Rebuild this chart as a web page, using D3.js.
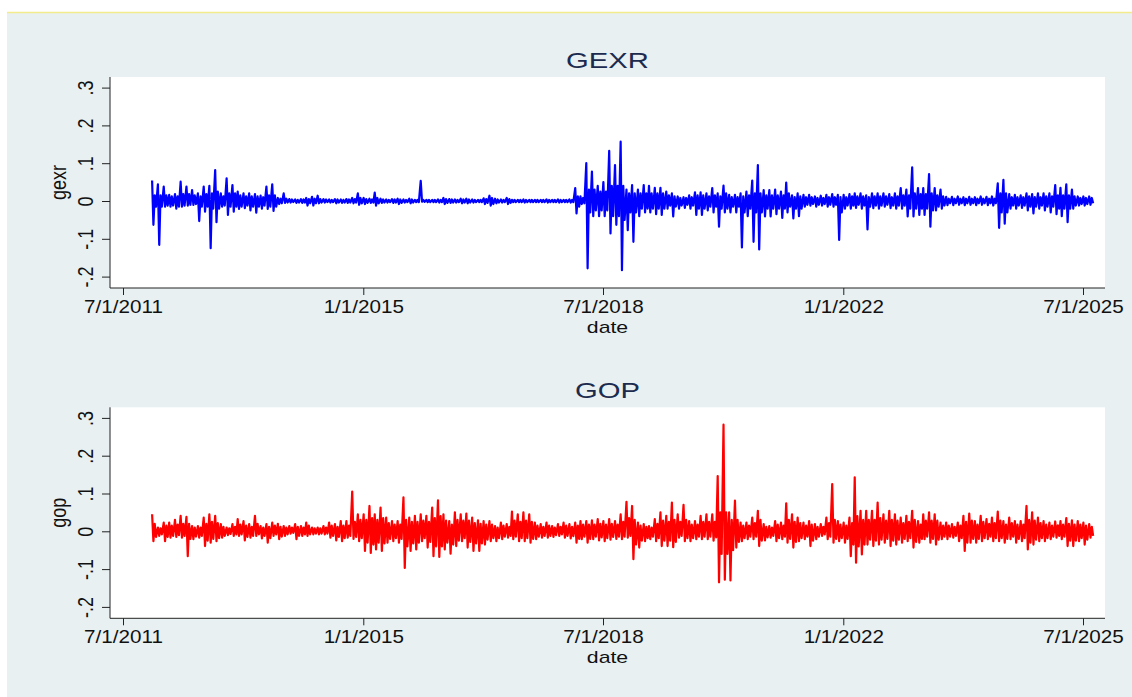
<!DOCTYPE html>
<html>
<head>
<meta charset="utf-8">
<script src="https://cdn.jsdelivr.net/npm/d3@7"></script>
<style>
  body { margin: 0; background: #fff; }
</style>
</head>
<body>
<div id="chart"></div>
<script>
// monthly readings, Dec 2011 .. Aug 2025 (165 months)
// high/low = extreme values seen in the month, bandHigh/bandLow = the usual swing that month
const firstMonth = new Date(2011, 11, 1);
const endMonth = new Date(2025, 8, 1);

const xTickDates = [new Date(2011, 6, 1), new Date(2015, 0, 1), new Date(2018, 6, 1), new Date(2022, 0, 1), new Date(2025, 6, 1)];
const xTickLabels = ['7/1/2011', '1/1/2015', '7/1/2018', '1/1/2022', '7/1/2025'];
const yTicks = [-0.2, -0.1, 0, 0.1, 0.2, 0.3];
const yTickLabels = ['-.2', '-.1', '0', '.1', '.2', '.3'];

const gexrHigh = [
  .054,.044,.038,.016,.018,.051,.038,.029,.020,.038,
  .040,.082,.020,.060,.042,.025,.020,.020,.018,.014,
  .038,.044,.008,.020,.005,.004,.005,.008,.011,.014,
  .005,.004,.005,.004,.005,.008,.020,.008,.006,.022,
  .006,.004,.005,.006,.004,.006,.003,.053,.003,.003,
  .004,.008,.005,.004,.006,.006,.004,.003,.007,.014,
  .006,.004,.008,.003,.003,.004,.003,.003,.003,.004,
  .003,.004,.003,.004,.034,.012,.100,.078,.040,.050,
  .133,.095,.157,.030,.042,.030,.042,.040,.035,.035,
  .025,.020,.012,.010,.015,.023,.023,.020,.034,.020,
  .041,.016,.016,.020,.025,.054,.095,.029,.029,.030,
  .025,.049,.015,.020,.016,.016,.012,.014,.016,.018,
  .016,.016,.018,.020,.020,.015,.020,.020,.020,.018,
  .020,.034,.030,.089,.034,.034,.071,.034,.030,.011,
  .011,.012,.010,.011,.010,.012,.011,.012,.047,.056,
  .018,.016,.015,.020,.018,.020,.020,.020,.042,.035,
  .044,.030,.012,.012,.012
];
const gexrLow = [
  -.063,-.116,-.015,-.015,-.020,-.015,-.012,-.010,-.053,-.028,
  -.125,-.056,-.015,-.037,-.028,-.021,-.019,-.025,-.031,-.020,
  -.021,-.026,-.008,-.005,-.004,-.005,-.005,-.012,-.012,-.006,
  -.004,-.004,-.006,-.005,-.005,-.006,-.010,-.008,-.005,-.012,
  -.005,-.004,-.005,-.008,-.004,-.006,-.003,-.002,-.003,-.003,
  -.004,-.008,-.005,-.004,-.006,-.006,-.004,-.003,-.008,-.012,
  -.006,-.004,-.008,-.003,-.003,-.004,-.003,-.003,-.003,-.004,
  -.003,-.004,-.003,-.004,-.033,-.008,-.178,-.040,-.040,-.040,
  -.086,-.063,-.183,-.077,-.108,-.040,-.030,-.030,-.035,-.037,
  -.020,-.041,-.020,-.018,-.020,-.037,-.037,-.025,-.030,-.068,
  -.030,-.030,-.030,-.123,-.040,-.108,-.128,-.041,-.041,-.035,
  -.045,-.030,-.046,-.040,-.015,-.012,-.015,-.012,-.015,-.015,
  -.103,-.020,-.020,-.018,-.020,-.075,-.019,-.020,-.015,-.019,
  -.020,-.020,-.041,-.041,-.037,-.037,-.068,-.025,-.020,-.011,
  -.011,-.010,-.011,-.010,-.011,-.010,-.011,-.012,-.071,-.060,
  -.020,-.020,-.018,-.025,-.033,-.020,-.025,-.030,-.035,-.040,
  -.056,-.020,-.012,-.012,-.010
];
const gexrBandHigh = [
  .015,.015,.015,.012,.012,.018,.018,.015,.012,.018,
  .020,.025,.012,.020,.020,.015,.012,.012,.012,.010,
  .015,.015,.006,.006,.004,.003,.004,.005,.006,.005,
  .004,.003,.004,.003,.004,.005,.008,.005,.004,.008,
  .004,.003,.004,.004,.003,.004,.003,.003,.003,.003,
  .003,.005,.004,.003,.004,.004,.003,.003,.005,.008,
  .004,.003,.005,.003,.003,.003,.003,.003,.003,.003,
  .003,.003,.003,.003,.012,.008,.030,.030,.025,.025,
  .040,.040,.040,.020,.020,.020,.020,.020,.020,.020,
  .015,.012,.008,.008,.010,.015,.015,.012,.015,.012,
  .020,.010,.010,.012,.015,.020,.020,.015,.015,.015,
  .015,.020,.010,.012,.010,.010,.008,.008,.010,.010,
  .010,.010,.012,.012,.012,.010,.012,.012,.012,.010,
  .012,.015,.015,.020,.018,.018,.020,.015,.012,.006,
  .006,.006,.006,.006,.006,.006,.006,.006,.020,.020,
  .010,.010,.010,.012,.010,.010,.012,.012,.015,.015,
  .015,.012,.008,.008,.008
];
const gexrBandLow = [
  -.015,-.015,-.012,-.012,-.015,-.012,-.010,-.008,-.015,-.015,
  -.020,-.020,-.012,-.015,-.015,-.015,-.012,-.015,-.015,-.012,
  -.015,-.015,-.006,-.004,-.003,-.004,-.004,-.006,-.006,-.004,
  -.003,-.003,-.004,-.004,-.004,-.004,-.006,-.005,-.004,-.006,
  -.004,-.003,-.004,-.005,-.003,-.004,-.003,-.002,-.003,-.003,
  -.003,-.005,-.004,-.003,-.004,-.004,-.003,-.003,-.005,-.008,
  -.004,-.003,-.005,-.003,-.003,-.003,-.003,-.003,-.003,-.003,
  -.003,-.003,-.003,-.003,-.015,-.006,-.030,-.025,-.025,-.025,
  -.040,-.040,-.050,-.030,-.030,-.020,-.020,-.020,-.020,-.020,
  -.012,-.015,-.012,-.010,-.012,-.020,-.020,-.015,-.015,-.020,
  -.020,-.015,-.015,-.030,-.020,-.030,-.030,-.020,-.020,-.020,
  -.020,-.015,-.020,-.020,-.010,-.008,-.010,-.008,-.010,-.010,
  -.030,-.012,-.012,-.010,-.012,-.015,-.012,-.012,-.010,-.012,
  -.012,-.012,-.020,-.020,-.020,-.020,-.025,-.015,-.012,-.006,
  -.006,-.006,-.006,-.006,-.006,-.006,-.006,-.006,-.030,-.030,
  -.012,-.012,-.012,-.015,-.015,-.012,-.015,-.015,-.020,-.020,
  -.020,-.012,-.008,-.008,-.006
];

const gopHigh = [
  .045,.010,.023,.023,.030,.041,.038,.014,.014,.036,
  .045,.041,.019,.010,.019,.032,.027,.019,.041,.014,
  .019,.023,.020,.014,.014,.019,.014,.023,.010,.010,
  .014,.023,.019,.027,.027,.105,.045,.045,.067,.045,
  .063,.036,.027,.027,.090,.036,.041,.045,.041,.063,
  .082,.045,.027,.050,.045,.047,.036,.029,.027,.027,
  .014,.023,.019,.052,.045,.050,.045,.023,.019,.023,
  .014,.019,.023,.019,.023,.027,.027,.029,.032,.027,
  .032,.027,.045,.078,.067,.023,.019,.014,.032,.050,
  .041,.076,.045,.070,.027,.027,.041,.045,.045,.146,
  .282,.050,.081,.023,.023,.036,.054,.019,.014,.027,
  .023,.074,.045,.036,.023,.027,.019,.019,.036,.125,
  .027,.023,.036,.143,.054,.054,.054,.076,.045,.054,
  .045,.036,.041,.054,.027,.045,.050,.045,.023,.023,
  .019,.023,.041,.047,.027,.041,.032,.036,.052,.027,
  .036,.027,.027,.067,.050,.036,.027,.023,.026,.027,
  .035,.029,.027,.023,.019
];
const gopLow = [
  -.026,-.012,-.026,-.017,-.015,-.017,-.066,-.021,-.017,-.039,
  -.030,-.026,-.017,-.010,-.012,-.012,-.024,-.017,-.012,-.019,
  -.030,-.012,-.021,-.012,-.006,-.021,-.012,-.012,-.008,-.008,
  -.008,-.017,-.024,-.026,-.017,-.020,-.026,-.052,-.057,-.048,
  -.052,-.030,-.026,-.030,-.097,-.052,-.048,-.026,-.043,-.066,
  -.068,-.048,-.059,-.039,-.026,-.043,-.052,-.052,-.035,-.026,
  -.026,-.021,-.017,-.021,-.026,-.026,-.030,-.021,-.017,-.017,
  -.015,-.012,-.017,-.019,-.030,-.021,-.030,-.021,-.024,-.026,
  -.022,-.020,-.021,-.017,-.074,-.043,-.026,-.021,-.026,-.039,
  -.039,-.042,-.017,-.026,-.026,-.021,-.021,-.021,-.025,-.135,
  -.128,-.130,-.043,-.026,-.021,-.021,-.039,-.024,-.017,-.026,
  -.021,-.030,-.043,-.026,-.021,-.039,-.021,-.012,-.021,-.030,
  -.026,-.030,-.066,-.083,-.061,-.035,-.039,-.035,-.030,-.039,
  -.035,-.030,-.026,-.043,-.030,-.021,-.030,-.035,-.021,-.021,
  -.017,-.026,-.052,-.030,-.030,-.026,-.021,-.026,-.026,-.030,
  -.021,-.030,-.026,-.048,-.035,-.026,-.026,-.021,-.017,-.021,
  -.039,-.039,-.026,-.035,-.017
];
const gopBandHigh = [
  .020,.008,.015,.015,.018,.020,.020,.010,.010,.020,
  .025,.022,.012,.008,.012,.018,.015,.012,.020,.010,
  .012,.015,.012,.010,.010,.012,.010,.015,.008,.008,
  .010,.015,.012,.015,.015,.025,.030,.030,.035,.030,
  .035,.022,.018,.018,.030,.025,.025,.028,.025,.035,
  .040,.028,.018,.030,.028,.028,.022,.020,.018,.018,
  .010,.015,.012,.028,.025,.028,.025,.015,.012,.015,
  .010,.012,.015,.012,.015,.018,.018,.018,.020,.018,
  .020,.018,.025,.035,.030,.015,.012,.010,.020,.028,
  .025,.030,.025,.030,.018,.018,.025,.025,.025,.050,
  .050,.030,.030,.015,.015,.022,.030,.012,.010,.018,
  .015,.030,.025,.022,.015,.018,.012,.012,.022,.030,
  .018,.015,.022,.040,.030,.030,.030,.035,.028,.030,
  .028,.022,.025,.030,.018,.028,.028,.028,.015,.015,
  .012,.015,.025,.028,.018,.025,.020,.022,.028,.018,
  .022,.018,.018,.030,.028,.022,.018,.015,.016,.018,
  .020,.018,.018,.015,.012
];
const gopBandLow = [
  -.015,-.008,-.015,-.012,-.010,-.012,-.020,-.014,-.012,-.025,
  -.020,-.018,-.012,-.007,-.008,-.008,-.015,-.012,-.008,-.012,
  -.018,-.008,-.014,-.008,-.004,-.012,-.008,-.008,-.006,-.006,
  -.006,-.012,-.015,-.018,-.012,-.015,-.018,-.030,-.035,-.030,
  -.032,-.020,-.018,-.020,-.040,-.032,-.030,-.018,-.028,-.040,
  -.040,-.030,-.035,-.025,-.018,-.028,-.032,-.032,-.022,-.018,
  -.018,-.014,-.012,-.014,-.018,-.018,-.020,-.014,-.012,-.012,
  -.010,-.008,-.012,-.013,-.020,-.014,-.020,-.014,-.016,-.018,
  -.015,-.014,-.014,-.012,-.035,-.025,-.018,-.014,-.018,-.025,
  -.025,-.028,-.012,-.018,-.018,-.014,-.014,-.014,-.016,-.060,
  -.060,-.050,-.028,-.018,-.014,-.014,-.025,-.016,-.012,-.018,
  -.014,-.020,-.028,-.018,-.014,-.025,-.014,-.008,-.014,-.020,
  -.018,-.020,-.035,-.040,-.035,-.022,-.025,-.022,-.020,-.025,
  -.022,-.020,-.018,-.028,-.020,-.014,-.020,-.022,-.014,-.014,
  -.012,-.018,-.030,-.020,-.020,-.018,-.014,-.018,-.018,-.020,
  -.014,-.020,-.018,-.030,-.022,-.018,-.018,-.014,-.012,-.014,
  -.025,-.025,-.018,-.022,-.012
];

const W = 1132, H = 697;
const plotLeft = 110, plotRight = 1105;
const panelTop = 77, panelBottom = 288, panelStep = 330.3;
const textScale = 1.18;

const months = d3.timeMonth.range(firstMonth, endMonth);

// four readings per month, in the order they zig-zag: extreme high, extreme low, usual high, usual low
function toPoints(high, low, bandHigh, bandLow) {
  const pts = [];
  months.forEach((m, i) => {
    const yr = m.getFullYear(), mo = m.getMonth();
    pts.push({ date: new Date(yr, mo, 3), v: high[i] });
    pts.push({ date: new Date(yr, mo, 10), v: low[i] });
    pts.push({ date: new Date(yr, mo, 17), v: bandHigh[i] });
    pts.push({ date: new Date(yr, mo, 24), v: bandLow[i] });
  });
  return pts;
}

const svg = d3.select('#chart').append('svg')
  .attr('width', W)
  .attr('height', H)
  .style('font-family', '"Liberation Sans", Arial, sans-serif');

svg.append('rect')
  .attr('x', 7).attr('y', 12)
  .attr('width', W - 7).attr('height', H - 12)
  .attr('fill', '#e8f0f2');

svg.append('line')
  .attr('x1', 7).attr('x2', W)
  .attr('y1', 12.5).attr('y2', 12.5)
  .attr('stroke', '#f2ec8c')
  .attr('stroke-width', 1.5);

const x = d3.scaleTime()
  .domain([xTickDates[0], xTickDates[xTickDates.length - 1]])
  .range([123, 1083]);

function drawPanel(offset, title, varLabel, series, color) {
  const g = svg.append('g').attr('transform', `translate(0,${offset})`);

  const y = d3.scaleLinear().domain([-0.2, 0.3]).range([276.6, 87.6]);

  g.append('rect')
    .attr('x', plotLeft).attr('y', panelTop)
    .attr('width', plotRight - plotLeft).attr('height', panelBottom - panelTop)
    .attr('fill', '#fff');

  // y axis
  const yAxis = g.append('g')
    .attr('transform', `translate(${plotLeft},0)`)
    .call(d3.axisLeft(y).tickValues(yTicks).tickSize(8).tickFormat((d, i) => yTickLabels[i]));
  yAxis.select('.domain').remove();
  yAxis.selectAll('line').attr('stroke', '#222');
  yAxis.selectAll('text')
    .attr('x', null).attr('dy', null)
    .attr('text-anchor', 'middle')
    .attr('transform', `translate(-17,0) scale(${textScale},1) rotate(-90)`)
    .style('font-size', '18px')
    .attr('fill', '#111');

  // x axis
  const xAxis = g.append('g')
    .attr('transform', `translate(0,${panelBottom})`)
    .call(d3.axisBottom(x).tickValues(xTickDates).tickSize(7).tickFormat((d, i) => xTickLabels[i]));
  xAxis.select('.domain').remove();
  xAxis.selectAll('line').attr('stroke', '#222');
  xAxis.selectAll('text')
    .attr('y', 25).attr('dy', null)
    .attr('transform', `scale(${textScale},1)`)
    .style('font-size', '17.5px')
    .attr('fill', '#111');

  g.append('line')
    .attr('x1', plotLeft).attr('x2', plotLeft)
    .attr('y1', panelTop).attr('y2', panelBottom)
    .attr('stroke', '#222');
  g.append('line')
    .attr('x1', plotLeft).attr('x2', plotRight)
    .attr('y1', panelBottom).attr('y2', panelBottom)
    .attr('stroke', '#222');

  const line = d3.line()
    .x(d => x(d.date))
    .y(d => y(d.v));

  g.append('path')
    .datum(toPoints(...series))
    .attr('d', line)
    .attr('fill', 'none')
    .attr('stroke', color)
    .attr('stroke-width', 2.2)
    .attr('stroke-linejoin', 'round');

  // titles
  const midX = (plotLeft + plotRight) / 2;
  g.append('text')
    .attr('transform', `translate(${midX},68) scale(1.33,1)`)
    .attr('text-anchor', 'middle')
    .style('font-size', '22px')
    .attr('fill', '#1c2b4e')
    .text(title);

  g.append('text')
    .attr('transform', `translate(66,${(panelTop + panelBottom) / 2}) scale(${textScale},1) rotate(-90)`)
    .attr('text-anchor', 'middle')
    .style('font-size', '18px')
    .attr('fill', '#111')
    .text(varLabel);

  g.append('text')
    .attr('transform', `translate(${midX},333) scale(1.25,1)`)
    .attr('text-anchor', 'middle')
    .style('font-size', '17px')
    .attr('fill', '#111')
    .text('date');
}

drawPanel(0, 'GEXR', 'gexr', [gexrHigh, gexrLow, gexrBandHigh, gexrBandLow], '#0000ff');
drawPanel(panelStep, 'GOP', 'gop', [gopHigh, gopLow, gopBandHigh, gopBandLow], '#ff0000');
</script>
</body>
</html>
